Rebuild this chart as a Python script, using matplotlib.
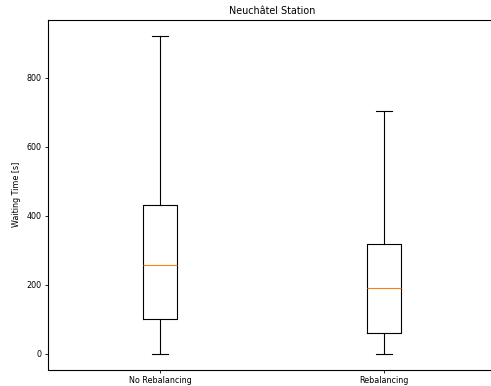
import matplotlib
matplotlib.use("Agg")
import matplotlib.pyplot as plt

# box statistics
labels = ["No Rebalancing", "Rebalancing"]
whislo = [1, 1]
q1 = [102, 61]
med = [259, 190]
q3 = [431, 319]
whishi = [922, 704]

stats = []
for i in range(len(labels)):
    stats.append({"label": labels[i], "whislo": whislo[i], "q1": q1[i],
                  "med": med[i], "q3": q3[i], "whishi": whishi[i], "fliers": []})

plt.rcParams["font.size"] = 5.8

fig = plt.figure(figsize=(4.91, 3.86), dpi=100)
ax = fig.add_axes([48 / 491, 1 - 369.5 / 386, 448 / 491, 349.5 / 386])
ax.bxp(stats, showfliers=False, widths=0.15,
       boxprops=dict(linewidth=0.8), whiskerprops=dict(linewidth=0.8),
       capprops=dict(linewidth=0.8), medianprops=dict(linewidth=0.8, color="#ff7f0e"))
ax.set_xlim(0.5, 2.5)
ax.set_ylim(-45, 968)
ax.set_yticks([0, 200, 400, 600, 800])
ax.tick_params(length=2.5, width=0.6, pad=2)
for s in ax.spines.values():
    s.set_linewidth(0.8)
# the right edge of the axes lies outside the picture
ax.spines["right"].set_visible(False)
ax.set_ylabel("Waiting Time [s]")
ax.set_title("Neuchâtel Station", pad=4)
fig.savefig("out.png", dpi=100)
